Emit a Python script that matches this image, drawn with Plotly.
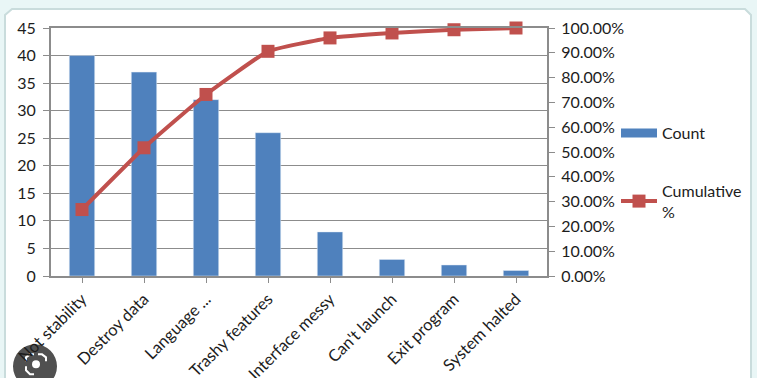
import plotly.graph_objects as go

categories = ["Not stability", "Destroy data", "Language ...", "Trashy features",
              "Interface messy", "Can't launch", "Exit program", "System halted"]
counts = [40, 37, 32, 26, 8, 3, 2, 1]
cumulative = [0.268, 0.517, 0.732, 0.906, 0.96, 0.98, 0.993, 1.0]
count_ticks = [0, 5, 10, 15, 20, 25, 30, 35, 40, 45]
pct_ticks = [0, .1, .2, .3, .4, .5, .6, .7, .8, .9, 1.0]

W, H = 757, 378
L, R, T, B = 51, 547, 28, 276.5
FONT = "Lato"
TXT = "#1c1c1c"
GRID = "#8c8c8c"
BLUE = "#4f81bd"
RED = "#c0504d"

def px(x):
    return (x - L) / (R - L)

def py(y):
    return (B - y) / (B - T)

def poly(points):
    return "M " + " L ".join(f"{px(x)} {py(y)}" for x, y in points)

fig = go.Figure()
fig.add_trace(go.Bar(x=categories, y=counts, name="Count", marker_color=BLUE,
                     width=0.41, showlegend=False))
fig.add_trace(go.Scatter(x=[None], y=[None], name="Count", mode="lines",
                         line=dict(color=BLUE, width=9), legendgroup="a"))
fig.add_trace(go.Scatter(x=categories, y=cumulative, name="Cumulative<br>%", yaxis="y2",
                         mode="lines+markers", cliponaxis=False,
                         line=dict(color=RED, width=4, shape="spline", smoothing=0.35),
                         marker=dict(symbol="square", size=13, color=RED),
                         legendgroup="b"))

icon_line = dict(color="white", width=2)
shapes = [
    dict(type="path", xref="paper", yref="paper", layer="below",
         path=poly([(12, 9), (745, 9), (751, 15), (751, 385), (5, 385), (5, 15)]) + " Z",
         fillcolor="white", line=dict(color="#c9dcdc", width=2)),
    dict(type="circle", xref="paper", yref="paper", layer="below",
         x0=px(13), x1=px(57), y0=py(389), y1=py(345),
         fillcolor="#505050", line=dict(width=0)),
    dict(type="circle", xref="paper", yref="paper", layer="below",
         x0=px(32), x1=px(40), y0=py(369), y1=py(361),
         fillcolor="white", line=dict(width=0)),
    dict(type="path", xref="paper", yref="paper", layer="below",
         path=poly([(26, 362), (26, 358), (30, 355), (34, 355)]), line=icon_line),
    dict(type="path", xref="paper", yref="paper", layer="below",
         path=poly([(38, 355), (42, 355), (46, 358), (46, 362)]), line=icon_line),
    dict(type="path", xref="paper", yref="paper", layer="below",
         path=poly([(26, 367), (26, 371), (30, 375), (34, 375)]), line=icon_line),
]

fig.update_layout(
    width=W, height=H, autosize=False,
    margin=dict(l=L, r=W-R, t=T, b=H-B, pad=0),
    paper_bgcolor="#e9f6f6", plot_bgcolor="rgba(0,0,0,0)",
    font=dict(family=FONT, size=16, color=TXT),
    shapes=shapes, showlegend=True,
    xaxis=dict(type="category", tickangle=-45, ticks="outside", ticklen=5, tickcolor=GRID,
               showline=True, linecolor=GRID, linewidth=2, showgrid=False, automargin=False,
               mirror=True,
               tickfont=dict(family=FONT, size=16.5, color=TXT), range=[-0.5, 7.5]),
    yaxis=dict(range=[0, 45], tickvals=count_ticks, ticks="outside", ticklen=6, tickcolor=GRID,
               showline=True, linecolor=GRID, linewidth=2, gridcolor=GRID, gridwidth=1,
               zeroline=False, automargin=False, ticklabelstandoff=4,
               tickfont=dict(family=FONT, size=16, color=TXT)),
    yaxis2=dict(range=[0, 1], overlaying="y", side="right", tickvals=pct_ticks, tickformat=".2%",
                ticks="outside", ticklen=6, tickcolor=GRID, showline=True, linecolor=GRID, linewidth=2,
                showgrid=False, zeroline=False, automargin=False, ticklabelstandoff=3,
                tickfont=dict(family=FONT, size=16, color=TXT)),
    legend=dict(xref="container", yref="container", x=616/W, y=1-116/H, xanchor="left", yanchor="top",
                bgcolor="rgba(0,0,0,0)", font=dict(family=FONT, size=16, color=TXT),
                tracegroupgap=34, itemwidth=36),
)
fig.write_html("out.html", config={"displayModeBar": False},
               post_script="document.body.style.margin='0';document.body.style.background='#e9f6f6';")
